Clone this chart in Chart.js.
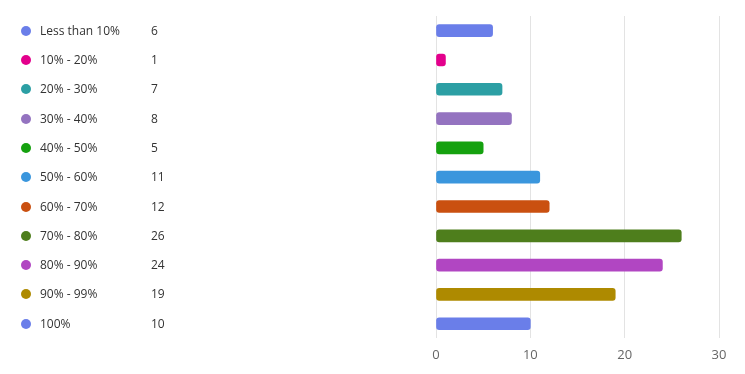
<!DOCTYPE html>
<html>
<head>
<meta charset="utf-8">
<script src="https://cdn.jsdelivr.net/npm/chart.js@4/dist/chart.umd.min.js"></script>
<style>
    html, body { margin: 0; padding: 0; background: #fff; }
    #wrap { position: relative; width: 745px; height: 374px; }
    #grafico { position: absolute; left: 0; top: 0; }
    #legenda { position: absolute; left: 0; top: 0; font-family: 'Open Sans', 'Noto Sans', sans-serif; font-size: 12px; color: #333; }
    .riga { position: absolute; left: 21px; height: 16px; line-height: 16px; white-space: nowrap; }
    .punto { position: absolute; left: 0; top: 3px; width: 10px; height: 10px; border-radius: 50%; }
    .etichetta { position: absolute; left: 19px; }
    .conteggio { position: absolute; left: 130px; }
</style>
</head>
<body>
<div id="wrap">
    <canvas id="grafico" width="745" height="374"></canvas>
    <div id="legenda"></div>
</div>
<script>
const categorie = ['Less than 10%', '10% - 20%', '20% - 30%', '30% - 40%', '40% - 50%', '50% - 60%', '60% - 70%', '70% - 80%', '80% - 90%', '90% - 99%', '100%'];
const valori = [6, 1, 7, 8, 5, 11, 12, 26, 24, 19, 10];
const colori = ['#6a7ee9', '#e3008c', '#2c9fa4', '#9473c0', '#15a10f', '#3a96dd', '#ca5010', '#4e7e1c', '#b146c2', '#ae8a00', '#6a7ee9'];
const tickX = [0, 10, 20, 30];

const legenda = document.getElementById('legenda');

// posiziona le righe della legenda sulla stessa y delle barre
const pluginLegenda = {
    id: 'legendaHtml',
    afterDraw(chart) {
        const y = chart.scales.y;
        legenda.innerHTML = '';
        categorie.forEach((cat, i) => {
            const riga = document.createElement('div');
            riga.className = 'riga';
            riga.style.top = (y.getPixelForValue(i) - 8) + 'px';
            riga.innerHTML = `<span class="punto" style="background:${colori[i]}"></span>` +
                `<span class="etichetta">${cat}</span><span class="conteggio">${valori[i]}</span>`;
            legenda.appendChild(riga);
        });
    }
};

new Chart(document.getElementById('grafico'), {
    type: 'bar',
    data: {
        labels: categorie,
        datasets: [{
            data: valori,
            backgroundColor: colori,
            borderRadius: 3,
            borderSkipped: false,
            barThickness: 12
        }]
    },
    options: {
        indexAxis: 'y',
        responsive: false,
        animation: false,
        layout: { padding: { left: 436, right: 26, top: 16, bottom: 2 } },
        plugins: { legend: { display: false }, tooltip: { enabled: false } },
        scales: {
            x: {
                min: 0,
                max: 30,
                afterBuildTicks: axis => { axis.ticks = tickX.map(v => ({ value: v })); },
                grid: { color: '#e3e3e3', drawTicks: false },
                border: { display: false },
                ticks: { color: '#666', padding: 9, font: { family: 'Open Sans', size: 13 } }
            },
            y: {
                display: false
            }
        }
    },
    plugins: [pluginLegenda]
});
</script>
</body>
</html>
